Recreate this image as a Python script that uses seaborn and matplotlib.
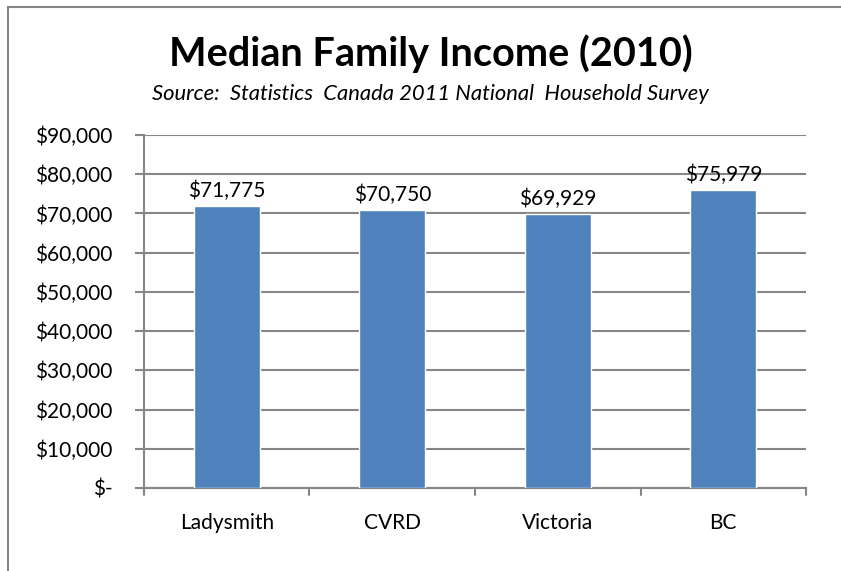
import numpy as np
import pandas as pd
import matplotlib.pyplot as plt
import seaborn as sns
from matplotlib.patches import Rectangle

# data
regions = ["Ladysmith", "CVRD", "Victoria", "BC"]
income = [71775, 70750, 69929, 75979]
y_ticks = [0, 10000, 20000, 30000, 40000, 50000, 60000, 70000, 80000, 90000]

df = pd.DataFrame({"region": regions, "income": income})

sns.set_theme(style="white")
plt.rcParams["font.family"] = ["Lato", "DejaVu Sans"]

fig = plt.figure(figsize=(8.41, 5.71), dpi=100)
ax = fig.add_axes([0.1712, 0.1454, 0.7872, 0.6182])

sns.barplot(data=df, x="region", y="income", color="#4F81BD", width=0.4,
            saturation=1, ax=ax, zorder=3)

ax.set_ylim(0, 90000)
ax.set_xlim(-0.5, 3.5)
ax.set_yticks(y_ticks)
ax.set_yticklabels(["$-" if v == 0 else "${:,}".format(v) for v in y_ticks])
ax.yaxis.grid(True, color="#868686", linewidth=1.5, zorder=0)
ax.set_xlabel("")
ax.set_ylabel("")

for s in ["top", "right"]:
    ax.spines[s].set_visible(False)
for s in ["left", "bottom"]:
    ax.spines[s].set_color("#868686")
    ax.spines[s].set_linewidth(1.5)

ax.tick_params(axis="y", length=6.5, width=1.5, color="#868686", labelsize=15, pad=16,
               left=True, labelcolor="black")
ax.tick_params(axis="x", length=0, labelsize=15, pad=18, labelcolor="black")

# category boundary ticks below the x axis
for b in np.arange(-0.5, 4, 1):
    ax.plot([b, b], [0, -1700], color="#868686", lw=1.5, clip_on=False, zorder=4)

for i, v in enumerate(income):
    ax.text(i, v + 1300, "${:,}".format(v), ha="center", va="bottom", fontsize=15,
            color="black", zorder=5)

fig.text(0.512, 0.906, "Median Family Income (2010)", ha="center", va="center",
         fontsize=28.5, fontweight="bold", color="black")
fig.text(0.512, 0.836, "Source:  Statistics  Canada 2011 National  Household Survey",
         ha="center", va="center", fontsize=15.8, style="italic", color="black")

# outer chart border (cropped at right and bottom)
fig.add_artist(Rectangle((8 / 841, -0.1), 1.1, 1 - 7 / 571 + 0.1,
                         transform=fig.transFigure, fill=False,
                         edgecolor="#868686", linewidth=1.5))

plt.savefig("out.png", dpi=100)
